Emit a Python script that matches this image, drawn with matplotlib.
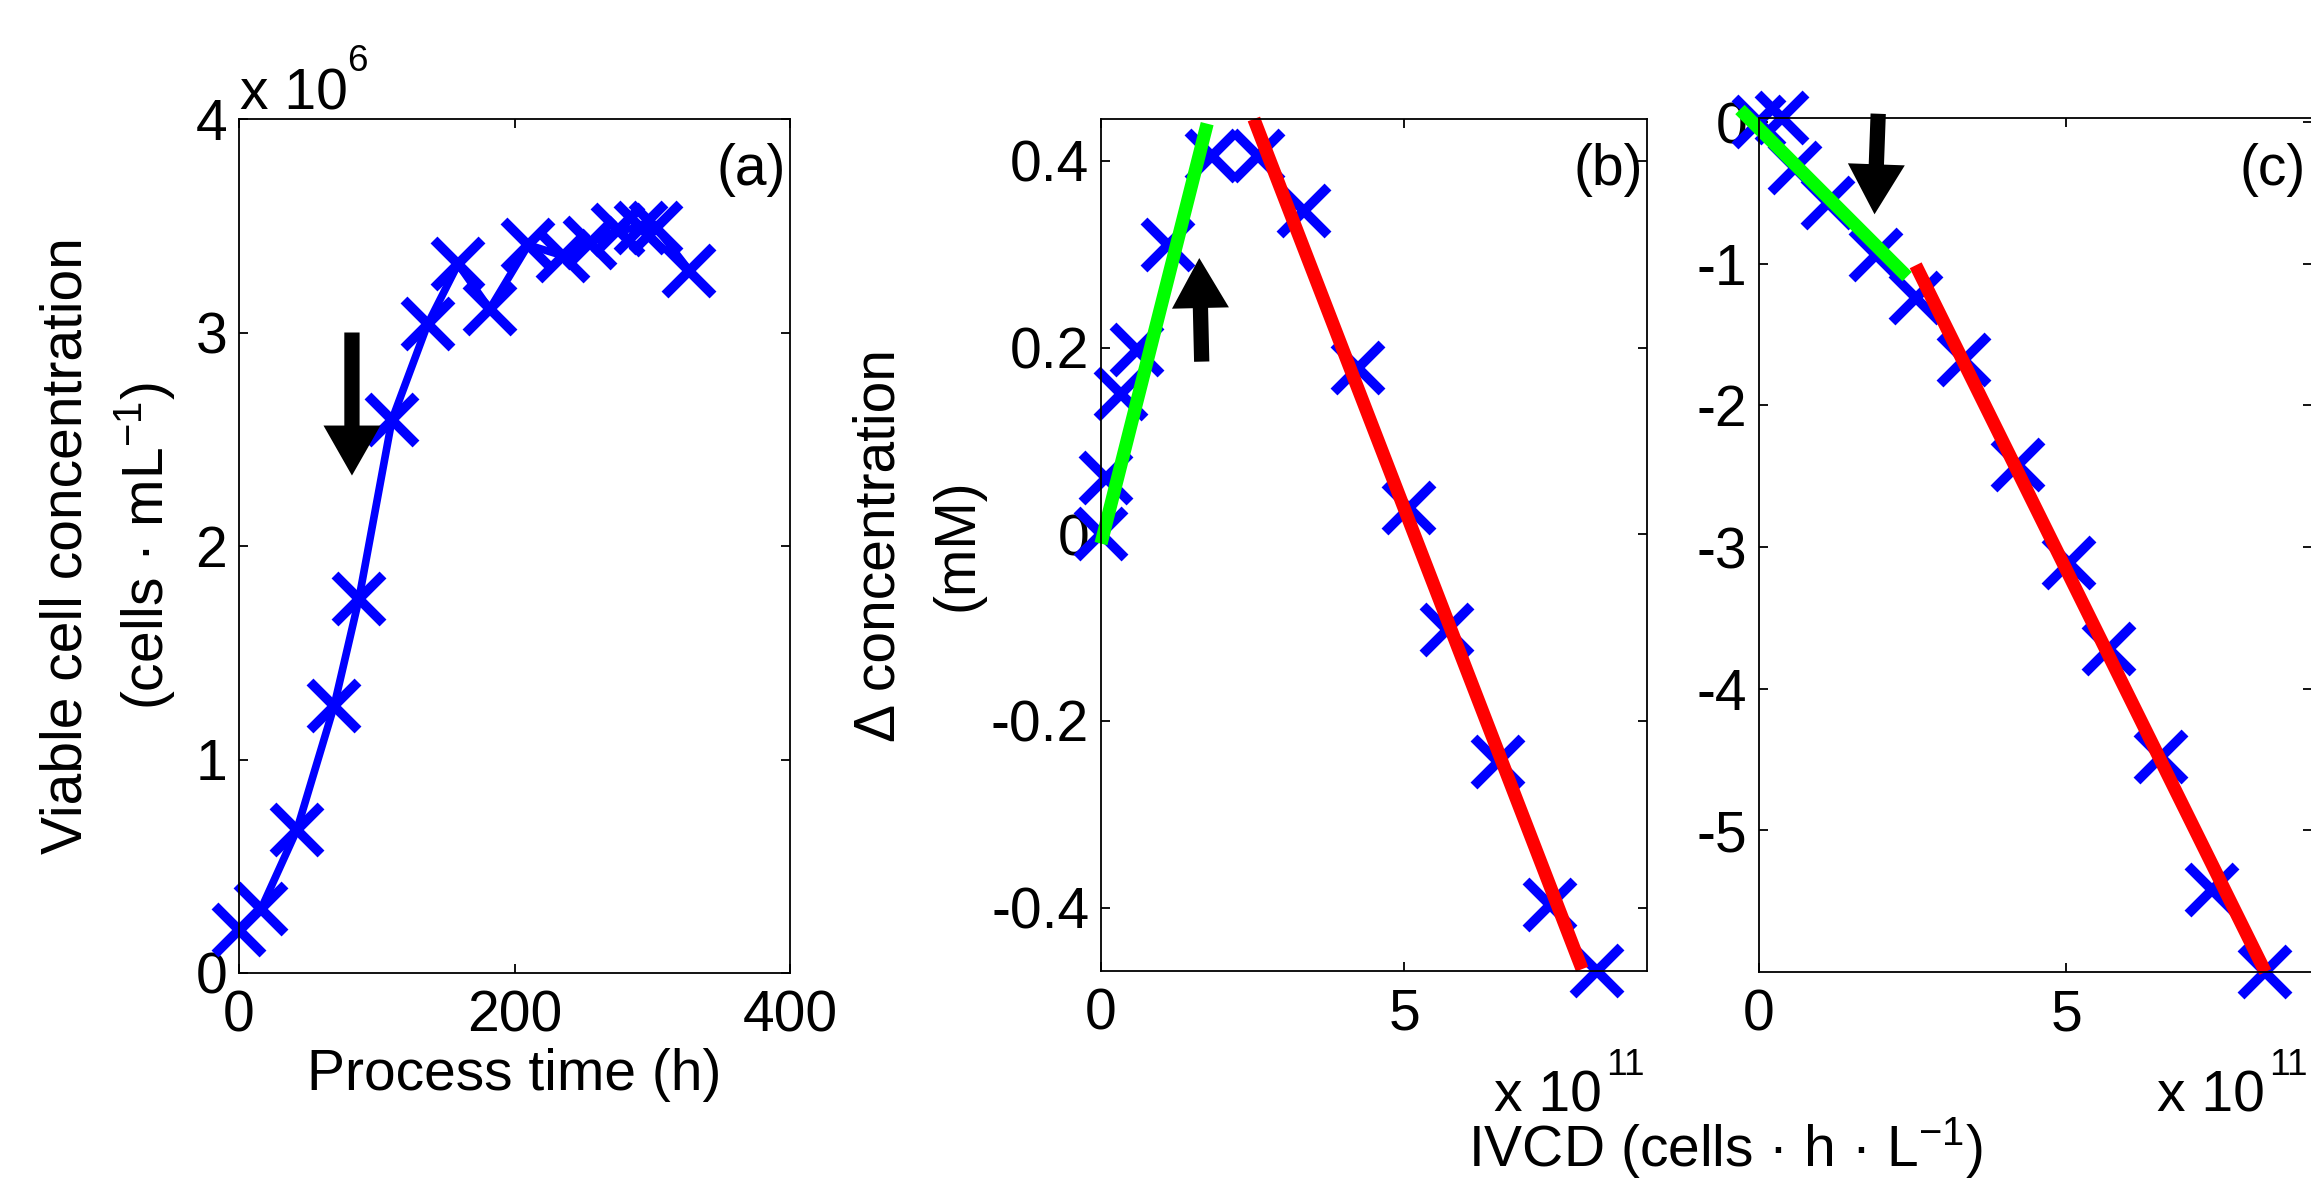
import matplotlib.pyplot as plt
from matplotlib.ticker import FuncFormatter

plt.rcParams['font.family'] = ['Liberation Sans', 'DejaVu Sans']
plt.rcParams['mathtext.fontset'] = 'custom'
plt.rcParams['mathtext.rm'] = 'Liberation Sans'
plt.rcParams['mathtext.it'] = 'Liberation Sans:italic'
plt.rcParams['mathtext.bf'] = 'Liberation Sans:bold'
plt.rcParams['mathtext.default'] = 'regular'
plt.rcParams['axes.unicode_minus'] = False

# (a) viable cell concentration (x 1e6 cells/mL) vs process time (h)
time_h = [0, 16, 42, 69, 87, 111, 137, 159, 182, 210, 235, 255, 275, 292, 303, 327]
vcc = [0.20, 0.30, 0.67, 1.25, 1.75, 2.59, 3.04, 3.32, 3.11, 3.41, 3.36, 3.42,
       3.48, 3.49, 3.49, 3.29]

# (b) delta concentration (mM) vs IVCD (x 1e11 cells h / L)
ivcd_b = [0.0, 0.08, 0.33, 0.59, 1.11, 1.83, 2.58, 3.35, 4.24, 5.07, 5.70, 6.54, 7.40, 8.18]
conc_b = [0.0, 0.06, 0.15, 0.197, 0.31, 0.405, 0.405, 0.346, 0.178, 0.028,
          -0.103, -0.244, -0.397, -0.468]
fit1_b_x = [0.0, 1.75]
fit1_b_y = [-0.01, 0.44]
fit2_b_x = [2.52, 7.93]
fit2_b_y = [0.445, -0.466]

# (c)
ivcd_c = [0.0, 0.38, 0.59, 1.13, 1.90, 2.55, 3.33, 4.22, 5.04, 5.69, 6.55, 7.38, 8.24]
conc_c = [0.0, 0.03, -0.32, -0.57, -0.94, -1.24, -1.68, -2.42, -3.11, -3.72,
          -4.48, -5.42, -6.0]
fit1_c_x = [-0.31, 2.41]
fit1_c_y = [0.09, -1.09]
fit2_c_x = [2.55, 8.24]
fit2_c_y = [-1.01, -6.0]

# arrows: (tail, tip) in data units
arrow_a = [(82, 3.0), (82, 2.33)]
arrow_b = [(1.66, 0.185), (1.62, 0.296)]
arrow_c = [(1.94, 0.06), (1.88, -0.65)]

W, H = 2311, 1178
FS = 41
fig = plt.figure(figsize=(W / 100, H / 100), dpi=100)


def px_axes(l, t, r, b):
    return fig.add_axes([l / W, 1 - b / H, (r - l) / W, (b - t) / H])


def px_text(x, y, s, size=FS, **kw):
    fig.text(x / W, 1 - y / H, s, fontsize=size, **kw)


def style(ax):
    ax.tick_params(direction='in', top=True, right=True, length=6.5, width=1.3,
                   labelsize=FS)
    ax.tick_params(axis='x', pad=12)
    ax.tick_params(axis='y', pad=8.5)
    ax.xaxis.set_major_formatter(FuncFormatter(lambda v, p: f'{v:g}'))
    ax.yaxis.set_major_formatter(FuncFormatter(lambda v, p: f'{v:g}'))
    for sp in ax.spines.values():
        sp.set_linewidth(1.3)


def arrow(ax, pts):
    ax.annotate('', xy=pts[1], xytext=pts[0],
                arrowprops=dict(arrowstyle='simple,head_length=36,head_width=41,tail_width=11',
                                mutation_scale=1, fc='k', ec='k', lw=0,
                                shrinkA=0, shrinkB=0), zorder=5)


mk = dict(marker='x', markersize=35, markeredgewidth=7, color='#0000ff', clip_on=False)
fit_kw = dict(lw=9.5, solid_capstyle='butt', clip_on=False)

# ---- (a)
ax = px_axes(239, 119, 790, 973)
ax.plot(time_h, vcc, '-', lw=5.5, **mk)
arrow(ax, arrow_a)
ax.set_xlim(0, 400)
ax.set_ylim(0, 4)
ax.set_xticks([0, 200, 400])
ax.set_yticks([0, 1, 2, 3, 4])
style(ax)

# ---- (b)
ax = px_axes(1101, 119, 1647, 971)
ax.plot(ivcd_b, conc_b, ls='none', **mk)
ax.plot(fit1_b_x, fit1_b_y, color='#00ff00', **fit_kw)
ax.plot(fit2_b_x, fit2_b_y, color='#ff0000', **fit_kw)
arrow(ax, arrow_b)
ax.set_xlim(0, 9)
ax.set_ylim(-0.468, 0.445)
ax.set_xticks([0, 5])
ax.set_yticks([-0.4, -0.2, 0, 0.2, 0.4])
style(ax)

# ---- (c)
ax = px_axes(1759, 118, 2312, 972)
ax.plot(ivcd_c, conc_c, ls='none', **mk)
ax.plot(fit1_c_x, fit1_c_y, color='#00ff00', **fit_kw)
ax.plot(fit2_c_x, fit2_c_y, color='#ff0000', **fit_kw)
arrow(ax, arrow_c)
ax.set_xlim(0, 9)
ax.set_ylim(-6.0, 0.03)
ax.set_xticks([0, 5])
ax.set_yticks([-5, -4, -3, -2, -1, 0])
style(ax)

# ---- exponent texts (MATLAB style: raised small exponent)
SUP = FS * 0.65
px_text(240, 109, 'x 10', ha='left', va='baseline')
px_text(347, 71, '6', size=SUP, ha='left', va='baseline')
for right in (1645, 2308):
    px_text(right - 43, 1112, 'x 10', ha='right', va='baseline')
    px_text(right, 1075, '11', size=SUP, ha='right', va='baseline')

px_text(786, 185, '(a)', ha='right', va='baseline')
px_text(1643, 185, '(b)', ha='right', va='baseline')
px_text(2306, 185, '(c)', ha='right', va='baseline')

px_text(514, 1090, 'Process time (h)', ha='center', va='baseline')
px_text(1725, 1166, r'IVCD (cells · h · L$^{-1}$)', ha='center', va='baseline')

rot = dict(rotation=90, rotation_mode='anchor', ha='center', va='baseline')
px_text(82, 546, 'Viable cell concentration', **rot)
px_text(163, 546, r'(cells · mL$^{-1}$)', **rot)
px_text(895, 545, 'Δ concentration', **rot)
px_text(973, 545, '(mM)', **rot)

fig.savefig('out.png', dpi=100)
